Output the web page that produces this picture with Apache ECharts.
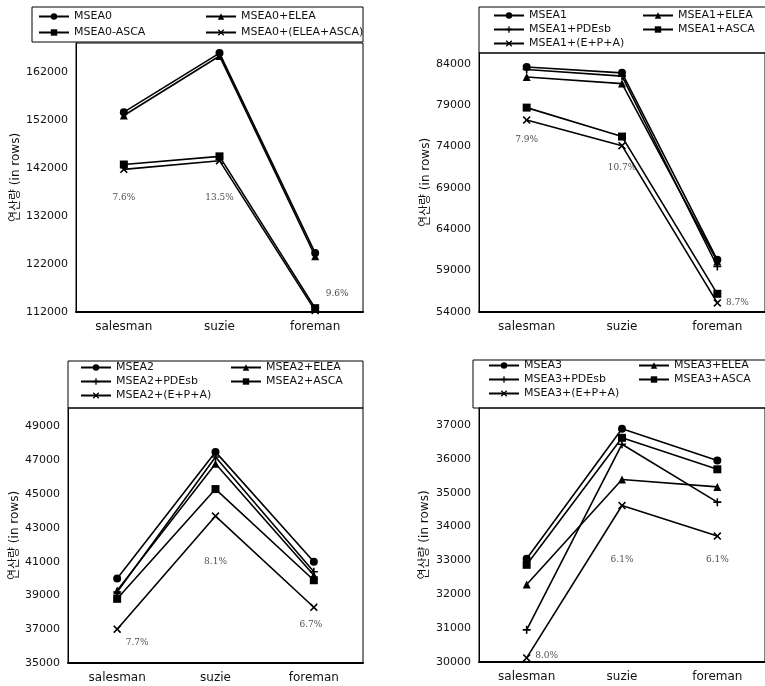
<!DOCTYPE html>
<html><head><meta charset="utf-8">
<script src="https://cdn.jsdelivr.net/npm/echarts@6/dist/echarts.min.js"></script>
<style>html,body{margin:0;padding:0;background:#fff}#c{width:765px;height:686px}</style>
</head><body><div id="c"></div>
<script>
// ---------- data ----------
const categories = ['salesman', 'suzie', 'foreman'];

// Panel 1 (MSEA0)
const p1Names = ['MSEA0', 'MSEA0+ELEA', 'MSEA0-ASCA', 'MSEA0+(ELEA+ASCA)'];
const p1_MSEA0 = [153600, 165900, 124300];
const p1_ELEA = [152900, 165300, 123600];
const p1_ASCA = [142700, 144400, 112800];
const p1_ELEA_ASCA = [141700, 143500, 112300];
const p1Ticks = { min: 112000, max: 168000, interval: 10000 };
const p1Notes = [['salesman', 135700, '7.6%'], ['suzie', 135700, '13.5%'], ['foreman', 115750, '9.6%']];

// Panel 2 (MSEA1)
const p2Names = ['MSEA1', 'MSEA1+ELEA', 'MSEA1+PDEsb', 'MSEA1+ASCA', 'MSEA1+(E+P+A)'];
const p2_MSEA1 = [83600, 82900, 60300];
const p2_ELEA = [82400, 81600, 60100];
const p2_PDEsb = [83300, 82500, 59500];
const p2_ASCA = [78700, 75200, 56200];
const p2_EPA = [77200, 74100, 55100];
const p2Ticks = { min: 54000, max: 85300, interval: 5000 };
const p2Notes = [['salesman', 74800, '7.9%'], ['suzie', 71400, '10.7%'], ['foreman', 55090, '8.7%']];

// Panel 3 (MSEA2)
const p3Names = ['MSEA2', 'MSEA2+ELEA', 'MSEA2+PDEsb', 'MSEA2+ASCA', 'MSEA2+(E+P+A)'];
const p3_MSEA2 = [40000, 47500, 41000];
const p3_ELEA = [39300, 46800, 40200];
const p3_PDEsb = [39200, 47200, 40400];
const p3_ASCA = [38800, 45300, 39900];
const p3_EPA = [37000, 43700, 38300];
const p3Ticks = { min: 35000, max: 50100, interval: 2000 };
const p3Notes = [['salesman', 36180, '7.7%'], ['suzie', 40980, '8.1%'], ['foreman', 37250, '6.7%']];

// Panel 4 (MSEA3)
const p4Names = ['MSEA3', 'MSEA3+ELEA', 'MSEA3+PDEsb', 'MSEA3+ASCA', 'MSEA3+(E+P+A)'];
const p4_MSEA3 = [33050, 36890, 35950];
const p4_ELEA = [32290, 35390, 35170];
const p4_PDEsb = [30950, 36430, 34720];
const p4_ASCA = [32870, 36620, 35690];
const p4_EPA = [30120, 34620, 33720];
const p4Ticks = { min: 30000, max: 37500, interval: 1000 };
const p4Notes = [['suzie', 33010, '6.1%'], ['foreman', 33010, '6.1%'], ['salesman', 30200, '8.0%']];

const yName = '연산량 (in rows)';

// ---------- styling / layout ----------
const PLUS = 'path://M4,0H6V4H10V6H6V10H4V6H0V4H4Z';
const CROSS = 'path://M0,1.4L1.4,0L5,3.6L8.6,0L10,1.4L6.4,5L10,8.6L8.6,10L5,6.4L1.4,10L0,8.6L3.6,5Z';
const FONT = "'DejaVu Sans','Noto Sans CJK KR',sans-serif";

const grids = [
  { left: 76, top: 43, width: 287, height: 269 },
  { left: 479, top: 53, width: 299, height: 259 },
  { left: 68, top: 408, width: 295, height: 255 },
  { left: 479, top: 408, width: 299, height: 254 }
];
const nameGaps = [54, 45, 46, 48];

const panels = [
  { names: p1Names, data: [p1_MSEA0, p1_ELEA, p1_ASCA, p1_ELEA_ASCA], sym: ['circle', 'triangle', 'rect', CROSS],
    ticks: p1Ticks, notes: p1Notes, noteDx: [0, 0, 22],
    cols: [[0, 2], [1, 3]], colX: [38, 205], legTop: 11, legGap: 5 },
  { names: p2Names, data: [p2_MSEA1, p2_ELEA, p2_PDEsb, p2_ASCA, p2_EPA], sym: ['circle', 'triangle', PLUS, 'rect', CROSS],
    ticks: p2Ticks, notes: p2Notes, noteDx: [0, 0, 20],
    cols: [[0, 2, 4], [1, 3]], colX: [493, 642], legTop: 10, legGap: 3 },
  { names: p3Names, data: [p3_MSEA2, p3_ELEA, p3_PDEsb, p3_ASCA, p3_EPA], sym: ['circle', 'triangle', PLUS, 'rect', CROSS],
    ticks: p3Ticks, notes: p3Notes, noteDx: [20, 0, -3],
    cols: [[0, 2, 4], [1, 3]], colX: [80, 230], legTop: 362, legGap: 3 },
  { names: p4Names, data: [p4_MSEA3, p4_ELEA, p4_PDEsb, p4_ASCA, p4_EPA], sym: ['circle', 'triangle', PLUS, 'rect', CROSS],
    ticks: p4Ticks, notes: p4Notes, noteDx: [0, 0, 20],
    cols: [[0, 2, 4], [1, 3]], colX: [488, 638], legTop: 360, legGap: 3 }
];

const option = {
  animation: false,
  backgroundColor: '#fff',
  grid: [], xAxis: [], yAxis: [], series: [], legend: [],
  graphic: [
    { type: 'rect', shape: { x: 32, y: 7, width: 331, height: 35 }, style: { fill: 'none', stroke: '#000', lineWidth: 1 } },
    { type: 'rect', shape: { x: 479, y: 7, width: 300, height: 46 }, style: { fill: 'none', stroke: '#000', lineWidth: 1 } },
    { type: 'rect', shape: { x: 68, y: 361, width: 295, height: 47 }, style: { fill: 'none', stroke: '#000', lineWidth: 1 } },
    { type: 'rect', shape: { x: 473, y: 360, width: 300, height: 48 }, style: { fill: 'none', stroke: '#000', lineWidth: 1 } }
  ]
};

panels.forEach((p, i) => {
  option.grid.push(Object.assign({ show: true, borderColor: '#000', borderWidth: 1, backgroundColor: 'transparent' }, grids[i]));
  option.xAxis.push({
    type: 'category', gridIndex: i, data: categories, boundaryGap: true,
    axisTick: { show: false },
    axisLine: { lineStyle: { color: '#000', width: 2 } },
    axisLabel: { color: '#111', fontSize: 12, fontFamily: FONT, margin: 9 }
  });
  option.yAxis.push({
    type: 'value', gridIndex: i, min: p.ticks.min, max: p.ticks.max, interval: p.ticks.interval,
    name: yName, nameLocation: 'middle', nameRotate: 90, nameGap: nameGaps[i],
    nameTextStyle: { color: '#111', fontSize: 12, fontFamily: FONT },
    splitLine: { show: false }, axisTick: { show: false },
    axisLine: { show: true, lineStyle: { color: '#000', width: 1 } },
    axisLabel: { color: '#111', fontSize: 11, fontFamily: FONT, margin: 8, showMaxLabel: false,
      formatter: v => String(v) }
  });
  p.names.forEach((nm, k) => {
    option.series.push({
      type: 'line', name: nm, xAxisIndex: i, yAxisIndex: i, data: p.data[k],
      symbol: p.sym[k], symbolSize: 8, showAllSymbol: true,
      lineStyle: { color: '#000', width: 1.6 }, itemStyle: { color: '#000' }
    });
  });
  option.series.push({
    type: 'scatter', name: 'notes' + i, xAxisIndex: i, yAxisIndex: i, symbolSize: 1,
    itemStyle: { color: 'rgba(0,0,0,0)' }, silent: true,
    data: p.notes.map((n, j) => ({ name: n[2], value: [n[0], n[1]], label: { offset: [p.noteDx[j], 0] } })),
    label: { show: true, position: 'inside', formatter: '{b}', color: '#222', fontSize: 9, fontFamily: "'DejaVu Serif',serif" }
  });
  p.cols.forEach((col, c) => {
    option.legend.push({
      orient: 'vertical', left: p.colX[c], top: p.legTop, itemWidth: 30, itemHeight: 8, itemGap: p.legGap,
      selectedMode: false, padding: 0,
      textStyle: { color: '#111', fontSize: 11, fontFamily: FONT },
      data: col.map(k => p.names[k])
    });
  });
});

const chart = echarts.init(document.getElementById('c'), null, { renderer: 'canvas' });
chart.setOption(option);
</script></body></html>
